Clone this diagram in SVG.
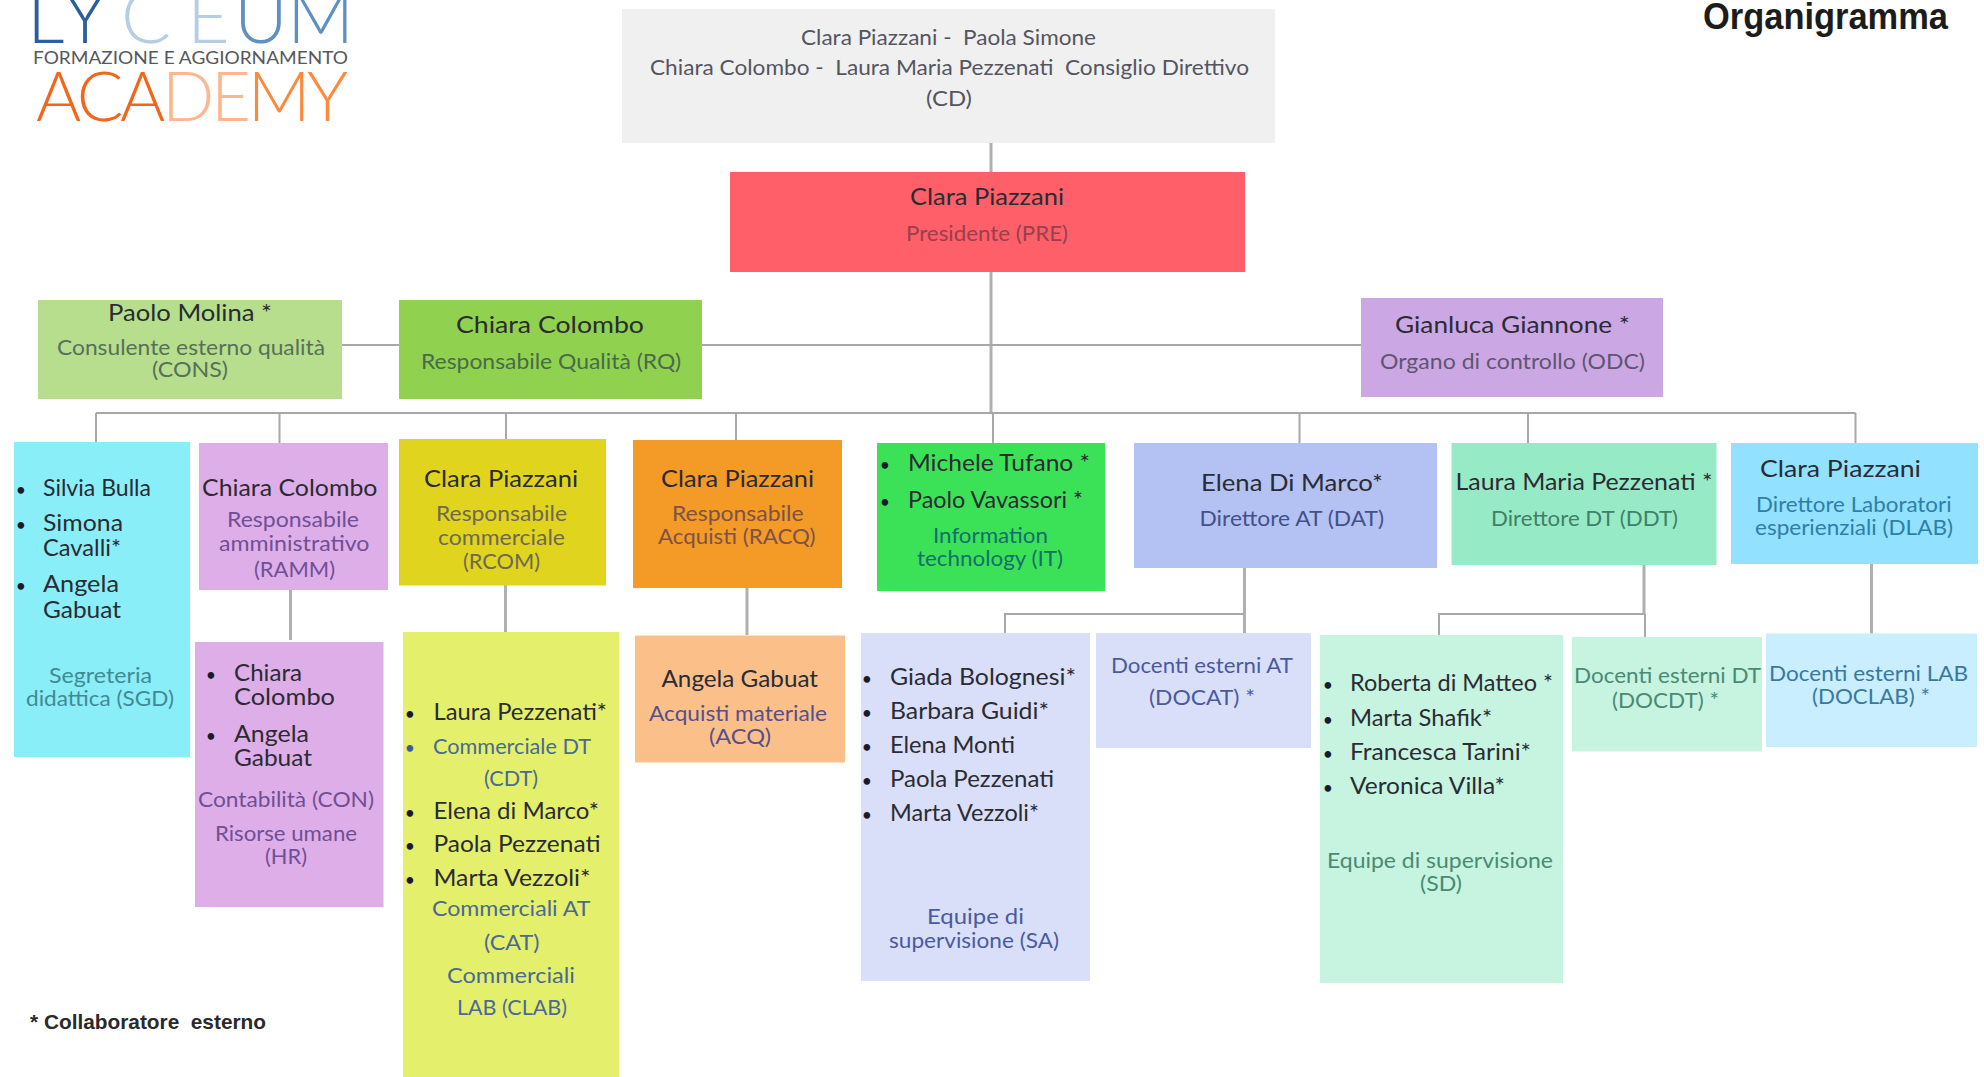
<svg xmlns="http://www.w3.org/2000/svg" width="1984" height="1077" viewBox="0 0 1984 1077">
<style>
text{font-family:"Lato","Noto Sans","Liberation Sans",sans-serif;white-space:pre;transform:translateY(-0.7px)}
#logo text,#title{transform:none}
.n{font-size:24px;fill:#2b2b33}
.s{font-size:21.5px}
.b{font-size:15px;font-weight:700;fill:#1a1a2a;transform:translate(1.5px,-2px)}
.c{fill:none;stroke:#a8a8a8;stroke-width:2}
.c3{fill:none;stroke:#b0b0b0;stroke-width:3}
</style>
<rect width="1984" height="1077" fill="#ffffff"/>
<g id="logo">
<text y="43" font-size="74" font-weight="300"><tspan x="27" fill="#2a5f9e">L</tspan><tspan x="63" fill="#2a5f9e">Y</tspan><tspan x="121" fill="#b7cde2">C</tspan><tspan x="187" fill="#b7cde2">E</tspan><tspan x="234" fill="#5e90c2">U</tspan><tspan x="287" fill="#5e90c2">M</tspan></text>
<text x="33" y="64" font-size="17" fill="#55585c" textLength="315" lengthAdjust="spacingAndGlyphs">FORMAZIONE E AGGIORNAMENTO</text>
<text x="36" y="121" font-size="69" font-weight="300" textLength="312" lengthAdjust="spacing"><tspan fill="#f2661a">ACA</tspan><tspan fill="#fcb78e">DE</tspan><tspan fill="#fb8a3e">MY</tspan></text>
</g>
<text id="title" x="1703" y="29" font-size="36" font-weight="700" fill="#1c1c1c" style="font-family:'Liberation Sans',sans-serif" textLength="245" lengthAdjust="spacingAndGlyphs">Organigramma</text>
<g id="connectors">
<path class="c3" d="M991 143V413"/>
<path class="c" d="M342 345H1361M96 413H1855.5M96 413V442M279.5 413V443M506 413V439M736 413V440M993 413V443M1299.5 413V443M1528 413V443M1855.5 413V443"/>
<path class="c3" d="M290.5 590V640M505.5 585V632M747 588V635M1244.5 568V633M1644 565V614M1871.5 564V633.5"/>
<path class="c" d="M1244.5 614H1005V633M1645 614H1439V635M1645 614V637"/>
</g>
<g id="cd"><rect x="622" y="9" width="653" height="134" fill="#f0f0f0"/>
<text class="s" style="fill:#55555f" x="801" y="46" textLength="295" lengthAdjust="spacingAndGlyphs">Clara Piazzani -  Paola Simone</text>
<text class="s" style="fill:#55555f" x="650" y="76" textLength="599" lengthAdjust="spacingAndGlyphs">Chiara Colombo -  Laura Maria Pezzenati  Consiglio Direttivo</text>
<text class="s" style="fill:#55555f" x="926" y="107" textLength="46" lengthAdjust="spacingAndGlyphs">(CD)</text></g>
<g id="pre"><rect x="730" y="172" width="515" height="100" fill="#fe5f68"/>
<text class="n" x="910" y="206" textLength="154" lengthAdjust="spacingAndGlyphs">Clara Piazzani</text>
<text class="s" style="fill:#98404e" x="906" y="242" textLength="162" lengthAdjust="spacingAndGlyphs">Presidente (PRE)</text></g>
<g id="cons"><rect x="38" y="300" width="304" height="99" fill="#b6de8c"/>
<text class="n" x="108" y="322" textLength="164" lengthAdjust="spacingAndGlyphs">Paolo Molina *</text>
<text class="s" style="fill:#56705a" x="57" y="356" textLength="268" lengthAdjust="spacingAndGlyphs">Consulente esterno qualità</text>
<text class="s" style="fill:#56705a" x="152" y="378" textLength="76" lengthAdjust="spacingAndGlyphs">(CONS)</text></g>
<g id="rq"><rect x="399" y="300" width="303" height="99" fill="#90d14f"/>
<text class="n" x="456" y="334" textLength="188" lengthAdjust="spacingAndGlyphs">Chiara Colombo</text>
<text class="s" style="fill:#4a6a4a" x="421" y="370" textLength="260" lengthAdjust="spacingAndGlyphs">Responsabile Qualità (RQ)</text></g>
<g id="odc"><rect x="1361" y="298" width="302" height="99" fill="#cba8e4"/>
<text class="n" x="1395" y="334" textLength="235" lengthAdjust="spacingAndGlyphs">Gianluca Giannone *</text>
<text class="s" style="fill:#5e5570" x="1380" y="369.500" textLength="265" lengthAdjust="spacingAndGlyphs">Organo di controllo (ODC)</text></g>
<g id="sgd"><rect x="14" y="442" width="176" height="315" fill="#8aeef8"/>
<text class="b" x="15" y="497">•</text><text class="n" x="43" y="497" textLength="108" lengthAdjust="spacingAndGlyphs">Silvia Bulla</text>
<text class="b" x="15" y="532">•</text><text class="n" x="43" y="532" textLength="80" lengthAdjust="spacingAndGlyphs">Simona</text>
<text class="n" x="43" y="557" textLength="78" lengthAdjust="spacingAndGlyphs">Cavalli*</text>
<text class="b" x="15" y="593">•</text><text class="n" x="43" y="593" textLength="76" lengthAdjust="spacingAndGlyphs">Angela</text>
<text class="n" x="43" y="619" textLength="78" lengthAdjust="spacingAndGlyphs">Gabuat</text>
<text class="s" style="fill:#3f8a94" x="49" y="684" textLength="103" lengthAdjust="spacingAndGlyphs">Segreteria</text>
<text class="s" style="fill:#3f8a94" x="26" y="707" textLength="148" lengthAdjust="spacingAndGlyphs">didattica (SGD)</text></g>
<g id="ramm"><rect x="199" y="443" width="189" height="147" fill="#deaee8"/>
<text class="n" x="202" y="497" textLength="175.500" lengthAdjust="spacingAndGlyphs">Chiara Colombo</text>
<text class="s" style="fill:#6f4f96" x="227" y="528" textLength="132" lengthAdjust="spacingAndGlyphs">Responsabile</text>
<text class="s" style="fill:#6f4f96" x="219" y="552" textLength="150.500" lengthAdjust="spacingAndGlyphs">amministrativo</text>
<text class="s" style="fill:#6f4f96" x="254" y="577.500" textLength="81" lengthAdjust="spacingAndGlyphs">(RAMM)</text></g>
<g id="rcom"><rect x="399" y="439" width="207" height="146.500" fill="#e0d41e"/>
<text class="n" x="424" y="488" textLength="154" lengthAdjust="spacingAndGlyphs">Clara Piazzani</text>
<text class="s" style="fill:#6e6a52" x="436" y="522" textLength="131" lengthAdjust="spacingAndGlyphs">Responsabile</text>
<text class="s" style="fill:#6e6a52" x="438" y="546" textLength="127" lengthAdjust="spacingAndGlyphs">commerciale</text>
<text class="s" style="fill:#6e6a52" x="463" y="569.500" textLength="77" lengthAdjust="spacingAndGlyphs">(RCOM)</text></g>
<g id="racq"><rect x="633" y="440" width="209" height="148" fill="#f39a27"/>
<text class="n" x="661" y="488" textLength="153" lengthAdjust="spacingAndGlyphs">Clara Piazzani</text>
<text class="s" style="fill:#7d5248" x="672" y="522" textLength="131.500" lengthAdjust="spacingAndGlyphs">Responsabile</text>
<text class="s" style="fill:#7d5248" x="658" y="545" textLength="157.500" lengthAdjust="spacingAndGlyphs">Acquisti (RACQ)</text></g>
<g id="it"><rect x="877" y="443" width="228" height="148" fill="#3be258"/>
<text class="b" x="879" y="472">•</text><text class="n" x="908" y="472" textLength="182" lengthAdjust="spacingAndGlyphs">Michele Tufano *</text>
<text class="b" x="879" y="509">•</text><text class="n" x="908" y="509" textLength="175" lengthAdjust="spacingAndGlyphs">Paolo Vavassori *</text>
<text class="s" style="fill:#12706a" x="933" y="543.500" textLength="115" lengthAdjust="spacingAndGlyphs">Information</text>
<text class="s" style="fill:#12706a" x="917" y="566.500" textLength="146" lengthAdjust="spacingAndGlyphs">technology (IT)</text></g>
<g id="dat"><rect x="1134" y="443" width="303" height="125" fill="#b3c2f2"/>
<text class="n" x="1201" y="492" textLength="182" lengthAdjust="spacingAndGlyphs">Elena Di Marco*</text>
<text class="s" style="fill:#43508a" x="1199.500" y="527" textLength="184.500" lengthAdjust="spacingAndGlyphs">Direttore AT (DAT)</text></g>
<g id="ddt"><rect x="1451.500" y="443" width="265" height="122" fill="#96ebc6"/>
<text class="n" x="1455.500" y="491" textLength="257" lengthAdjust="spacingAndGlyphs">Laura Maria Pezzenati *</text>
<text class="s" style="fill:#3f8068" x="1491" y="527" textLength="187" lengthAdjust="spacingAndGlyphs">Direttore DT (DDT)</text></g>
<g id="dlab"><rect x="1731" y="443" width="247" height="121" fill="#92e1ff"/>
<text class="n" x="1760" y="477.500" textLength="161" lengthAdjust="spacingAndGlyphs">Clara Piazzani</text>
<text class="s" style="fill:#2f7ea8" x="1756" y="513" textLength="195.500" lengthAdjust="spacingAndGlyphs">Direttore Laboratori</text>
<text class="s" style="fill:#2f7ea8" x="1755" y="536" textLength="198" lengthAdjust="spacingAndGlyphs">esperienziali (DLAB)</text></g>
<g id="con"><rect x="195" y="642" width="188.500" height="265" fill="#deaee8"/>
<text class="b" x="205" y="682">•</text><text class="n" x="234" y="682" textLength="68" lengthAdjust="spacingAndGlyphs">Chiara</text>
<text class="n" x="234" y="706" textLength="101" lengthAdjust="spacingAndGlyphs">Colombo</text>
<text class="b" x="205" y="742.500">•</text><text class="n" x="234" y="742.500" textLength="75" lengthAdjust="spacingAndGlyphs">Angela</text>
<text class="n" x="234" y="767" textLength="78" lengthAdjust="spacingAndGlyphs">Gabuat</text>
<text class="s" style="fill:#6f4f96" x="198" y="808" textLength="176" lengthAdjust="spacingAndGlyphs">Contabilità (CON)</text>
<text class="s" style="fill:#6f4f96" x="215" y="842" textLength="142" lengthAdjust="spacingAndGlyphs">Risorse umane</text>
<text class="s" style="fill:#6f4f96" x="265" y="865" textLength="42" lengthAdjust="spacingAndGlyphs">(HR)</text></g>
<g id="cdt"><rect x="403" y="632" width="216" height="445" fill="#e4ef6c"/>
<text class="b" x="404" y="721">•</text><text class="n" x="433.500" y="721" textLength="173.500" lengthAdjust="spacingAndGlyphs">Laura Pezzenati*</text>
<text class="b" style="fill:#3f5a9a" x="404" y="755">•</text><text class="s" style="fill:#4a6a94" x="433" y="755" textLength="158" lengthAdjust="spacingAndGlyphs">Commerciale DT</text>
<text class="s" style="fill:#4a6a94" x="484" y="786.500" textLength="54" lengthAdjust="spacingAndGlyphs">(CDT)</text>
<text class="b" x="404" y="820">•</text><text class="n" x="433.500" y="820" textLength="165.500" lengthAdjust="spacingAndGlyphs">Elena di Marco*</text>
<text class="b" x="404" y="853">•</text><text class="n" x="433.500" y="853" textLength="167" lengthAdjust="spacingAndGlyphs">Paola Pezzenati</text>
<text class="b" x="404" y="887">•</text><text class="n" x="433.500" y="887" textLength="157" lengthAdjust="spacingAndGlyphs">Marta Vezzoli*</text>
<text class="s" style="fill:#4a6a94" x="432" y="917" textLength="158.500" lengthAdjust="spacingAndGlyphs">Commerciali AT</text>
<text class="s" style="fill:#4a6a94" x="484" y="951" textLength="55.500" lengthAdjust="spacingAndGlyphs">(CAT)</text>
<text class="s" style="fill:#4a6a94" x="447" y="983.500" textLength="128" lengthAdjust="spacingAndGlyphs">Commerciali</text>
<text class="s" style="fill:#4a6a94" x="457" y="1016" textLength="110" lengthAdjust="spacingAndGlyphs">LAB (CLAB)</text></g>
<g id="acq"><rect x="635" y="635.500" width="210" height="127" fill="#fbbf8a"/>
<text class="n" x="661.500" y="688" textLength="156.500" lengthAdjust="spacingAndGlyphs">Angela Gabuat</text>
<text class="s" style="fill:#55508c" x="649" y="722" textLength="178" lengthAdjust="spacingAndGlyphs">Acquisti materiale</text>
<text class="s" style="fill:#55508c" x="709" y="745" textLength="62" lengthAdjust="spacingAndGlyphs">(ACQ)</text></g>
<g id="sa"><rect x="861" y="633" width="229" height="348" fill="#d9dff8"/>
<text class="b" x="861" y="686">•</text><text class="n" x="890" y="686" textLength="186" lengthAdjust="spacingAndGlyphs">Giada Bolognesi*</text>
<text class="b" x="861" y="720">•</text><text class="n" x="890" y="720" textLength="159" lengthAdjust="spacingAndGlyphs">Barbara Guidi*</text>
<text class="b" x="861" y="754">•</text><text class="n" x="890" y="754" textLength="125" lengthAdjust="spacingAndGlyphs">Elena Monti</text>
<text class="b" x="861" y="788">•</text><text class="n" x="890" y="788" textLength="164" lengthAdjust="spacingAndGlyphs">Paola Pezzenati</text>
<text class="b" x="861" y="822">•</text><text class="n" x="890" y="822" textLength="149" lengthAdjust="spacingAndGlyphs">Marta Vezzoli*</text>
<text class="s" style="fill:#4a5aa0" x="927" y="925" textLength="97" lengthAdjust="spacingAndGlyphs">Equipe di</text>
<text class="s" style="fill:#4a5aa0" x="889" y="948.500" textLength="170" lengthAdjust="spacingAndGlyphs">supervisione (SA)</text></g>
<g id="docat"><rect x="1096" y="633" width="215" height="115" fill="#d9dff8"/>
<text class="s" style="fill:#4a5aa0" x="1111" y="674" textLength="182" lengthAdjust="spacingAndGlyphs">Docenti esterni AT</text>
<text class="s" style="fill:#4a5aa0" x="1149" y="706" textLength="106" lengthAdjust="spacingAndGlyphs">(DOCAT) *</text></g>
<g id="sd"><rect x="1320" y="635" width="243" height="348" fill="#c6f4e0"/>
<text class="b" x="1322" y="692">•</text><text class="n" x="1350" y="692" textLength="203" lengthAdjust="spacingAndGlyphs">Roberta di Matteo *</text>
<text class="b" x="1322" y="727">•</text><text class="n" x="1350" y="727" textLength="142" lengthAdjust="spacingAndGlyphs">Marta Shafik*</text>
<text class="b" x="1322" y="761">•</text><text class="n" x="1350" y="761" textLength="181" lengthAdjust="spacingAndGlyphs">Francesca Tarini*</text>
<text class="b" x="1322" y="795">•</text><text class="n" x="1350" y="795" textLength="155" lengthAdjust="spacingAndGlyphs">Veronica Villa*</text>
<text class="s" style="fill:#4a8a74" x="1327" y="868.500" textLength="226" lengthAdjust="spacingAndGlyphs">Equipe di supervisione</text>
<text class="s" style="fill:#4a8a74" x="1420" y="892" textLength="42" lengthAdjust="spacingAndGlyphs">(SD)</text></g>
<g id="docdt"><rect x="1572" y="637" width="190" height="114.500" fill="#c6f4e0"/>
<text class="s" style="fill:#4a8a74" x="1574" y="684" textLength="187" lengthAdjust="spacingAndGlyphs">Docenti esterni DT</text>
<text class="s" style="fill:#4a8a74" x="1612" y="709" textLength="107" lengthAdjust="spacingAndGlyphs">(DOCDT) *</text></g>
<g id="doclab"><rect x="1766" y="633.500" width="211" height="113.500" fill="#c8eeff"/>
<text class="s" style="fill:#3a78a0" x="1769" y="682" textLength="199" lengthAdjust="spacingAndGlyphs">Docenti esterni LAB</text>
<text class="s" style="fill:#3a78a0" x="1812" y="705" textLength="118" lengthAdjust="spacingAndGlyphs">(DOCLAB) *</text></g>
<text id="note" x="30" y="1029.500" font-size="21" font-weight="700" fill="#2a2a2a" style="font-family:'Liberation Sans',sans-serif" textLength="236" lengthAdjust="spacingAndGlyphs">* Collaboratore  esterno</text>
</svg>
